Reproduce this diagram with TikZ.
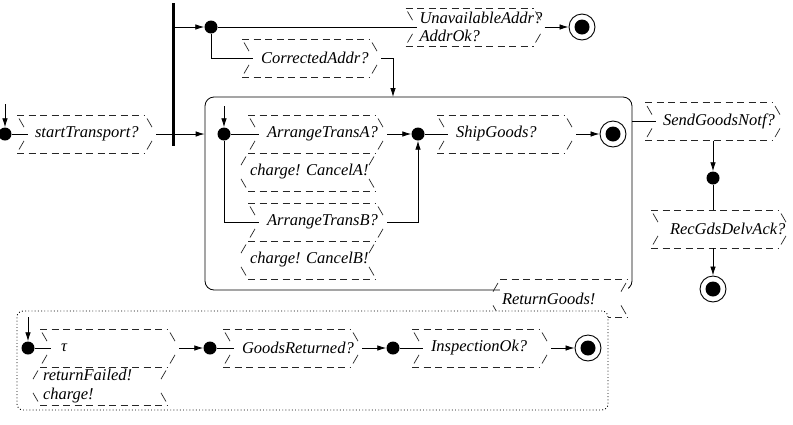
\documentclass[tikz,border=0pt]{standalone}
\usepackage{fontspec}
\setmainfont{Liberation Serif}
\usetikzlibrary{arrows.meta}
\frenchspacing
\tikzset{
  lbl/.style={font=\fontsize{16.5}{18.5}\selectfont\itshape},
  cline/.style={draw=black, line width=0.8pt},
  arr/.style={cline, -{Latex[length=9pt,width=5.5pt]}},
  dot/.style={circle, fill=black, inner sep=0pt, minimum size=13pt},
  final/.style={circle, draw=black, line width=0.9pt, fill=white, minimum size=26pt, inner sep=0pt,
    path picture={\fill[black] (path picture bounding box.center) circle[radius=7.5pt];}},
  boxin/.style={lbl, minimum width=128pt, minimum height=38pt, inner ysep=0pt, inner xsep=19pt,
    outer sep=0pt, text width=90pt, align=left},
  boxout/.style={lbl, minimum width=128pt, minimum height=38pt, inner ysep=0pt, inner xsep=2pt,
    outer sep=0pt, text width=124pt, align=left},
  dashline/.style={draw=black!85, line width=0.7pt, dash pattern=on 7pt off 4.5pt},
  sidedash/.style={draw=black!85, line width=0.7pt, dash pattern=on 0pt off 4pt on 10pt off 40pt},
  superst/.style={draw=black, line width=0.8pt, rounded corners=9pt, inner sep=0pt},
  dotbox/.style={draw=black, line width=0.9pt, dash pattern=on 0.9pt off 2.3pt, rounded corners=6pt,
    fill=white, inner sep=0pt},
  forkbar/.style={fill=black, inner sep=0pt, minimum width=3pt},
}
\newcommand\chsides[2]{% #1 name, #2 notch shift
  \draw[sidedash] (#1.north west) -- ([xshift=#2]#1.west);
  \draw[sidedash] (#1.south west) -- ([xshift=#2]#1.west);
  \draw[sidedash] (#1.north east) -- ([xshift=#2]#1.east);
  \draw[sidedash] (#1.south east) -- ([xshift=#2]#1.east);
  \coordinate (#1-l) at ([xshift=#2]#1.west);
  \coordinate (#1-r) at ([xshift=#2]#1.east);}
\newcommand\chin[1]{%
  \draw[dashline] (#1.north west) -- (#1.north east);
  \draw[dashline] (#1.south west) -- (#1.south east);
  \chsides{#1}{11pt}}
\newcommand\chout[1]{%
  \draw[dashline] (#1.north west) -- (#1.north east);
  \draw[dashline] (#1.south west) -- (#1.south east);
  \chsides{#1}{-11pt}}
\newcommand\choutbelow[1]{% output box stacked under another box: shares its top line
  \draw[dashline] (#1.south west) -- (#1.south east);
  \chsides{#1}{-11pt}}
\begin{document}
\begin{tikzpicture}[x=1pt,y=-1pt]
\useasboundingbox (0,0) rectangle (793,424);

% superstate
\node[superst, minimum width=427pt, minimum height=193pt] (sup) at (418.5,193.5) {};

% ReturnGoods! box on the superstate corner
\node[boxout, fill=white] (rg) at (564,298.5) {ReturnGoods!};
\chout{rg}

% dotted return region
\node[dotbox, minimum width=591pt, minimum height=99pt] (retbox) at (312.5,360.5) {};

% fork bar
\node[forkbar, minimum height=143pt] (fork) at (173,74.5) {};

% start
\coordinate (i0) at (5,104);
\node[dot] (d0) at (5,134) {};
\node[boxin, inner xsep=18pt, text width=92pt] (st) at (81,134) {startTransport?};
\chin{st}
\draw[arr] (i0) -- (d0);
\draw[cline] (d0) -- (st-l);
\draw[arr] (st-r) -- (st-r -| sup.west);

% top branch
\node[dot] (d1) at (211,27) {};
\draw[arr] (fork.east |- d1) -- (d1);
\node[boxin, inner xsep=14pt, text width=100pt] (ua) at (469.5,27) {UnavailableAddr?\\AddrOk?};
\chin{ua}
\node[final] (f1) at (582,27) {};
\draw[cline] (d1) -- (ua-l);
\draw[arr] (ua-r) -- (f1);
\node[boxin] (ca) at (306,58) {CorrectedAddr?};
\chin{ca}
\draw[cline] (d1) |- (ca-l);
\coordinate (supin) at (393,97);
\draw[arr] (ca-r) -| (supin);

% inside superstate
\coordinate (i1) at (224,106);
\node[dot] (d2) at (224,134) {};
\draw[arr] (i1) -- (d2);
\node[boxin] (ata) at (312,134) {ArrangeTransA?};
\chin{ata}
\node[boxout] (cca) at (312,172) {charge! CancelA!};
\choutbelow{cca}
\node[boxin] (atb) at (312,222) {ArrangeTransB?};
\chin{atb}
\node[boxout] (ccb) at (312,260) {charge! CancelB!};
\choutbelow{ccb}
\node[dot] (d3) at (418,134) {};
\node[boxin] (sg) at (501,134) {ShipGoods?};
\chin{sg}
\node[final] (f2) at (613,134) {};
\draw[cline] (d2) -- (ata-l);
\draw[arr] (ata-r) -- (d3);
\draw[cline] (d2) |- (atb-l);
\draw[arr] (atb-r) -| (d3);
\draw[cline] (d3) -- (sg-l);
\draw[arr] (sg-r) -- (f2);

% right side
\node[boxin, inner xsep=18pt, text width=92pt] (sgn) at (709,121.5) {SendGoodsNotf?};
\chin{sgn}
\draw[cline] (sgn-l -| sup.east) -- (sgn-l);
\node[dot] (d4) at (713,178) {};
\draw[arr] (sgn.south -| d4) -- (d4);
\node[boxin] (rga) at (715,229) {RecGdsDelvAck?};
\chin{rga}
\node[final] (f3) at (713,289) {};
\draw[cline] (d4) -- (rga.north -| d4);
\draw[arr] (rga.south -| d4) -- (f3);

% return region contents
\coordinate (i2) at (28,317);
\node[dot] (d5) at (28,348) {};
\draw[arr] (i2) -- (d5);
\node[boxin, inner xsep=21pt, text width=86pt] (tau) at (104,348) {τ};
\chin{tau}
\node[boxout, inner xsep=3pt, text width=122pt] (rf) at (104,386) {returnFailed!\\charge!};
\choutbelow{rf}
\node[dot] (d6) at (210,348) {};
\node[boxin] (gr) at (287,348) {GoodsReturned?};
\chin{gr}
\node[dot] (d7) at (393,348) {};
\node[boxin] (io) at (476,348) {InspectionOk?};
\chin{io}
\node[final] (f4) at (588,348) {};
\draw[cline] (d5) -- (tau-l);
\draw[arr] (tau-r) -- (d6);
\draw[cline] (d6) -- (gr-l);
\draw[arr] (gr-r) -- (d7);
\draw[cline] (d7) -- (io-l);
\draw[arr] (io-r) -- (f4);
\end{tikzpicture}
\end{document}
